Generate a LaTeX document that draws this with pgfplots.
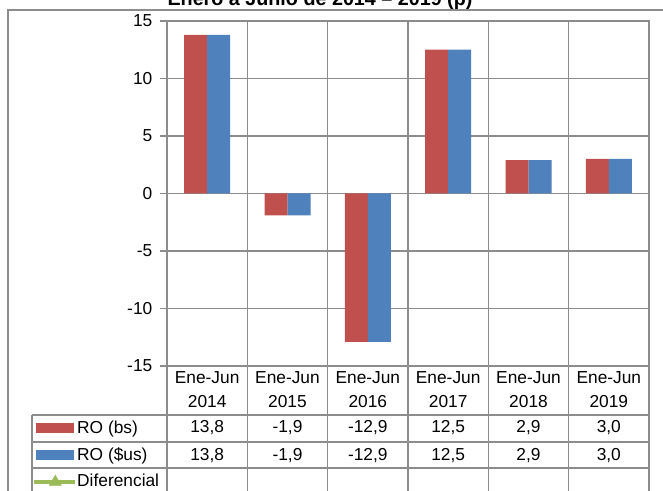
\documentclass[border=0pt]{standalone}
\usepackage{fontspec}
\setmainfont{Liberation Sans}
\usepackage{pgfplots}
\pgfplotsset{compat=1.18}
\definecolor{roa}{HTML}{C0504D}
\definecolor{rob}{HTML}{4F81BD}
\definecolor{dif}{HTML}{9BBB59}
\definecolor{gridc}{RGB}{140,140,140}
\begin{document}
\fontsize{13pt}{15pt}\selectfont
\begin{tikzpicture}
\useasboundingbox (0pt,0pt) rectangle (497.25pt,368.25pt);
\clip (0pt,0pt) rectangle (497.25pt,368.25pt);
\begin{axis}[
  at={(125.25pt,93.75pt)}, anchor=south west,
  scale only axis, width=361.5pt, height=258.75pt,
  xmin=0.5, xmax=6.5, ymin=-15, ymax=15,
  ytick={-15,-10,...,15},
  xtick={1.5,2.5,3.5,4.5,5.5}, xticklabels={},
  xmajorgrids, ymajorgrids,
  grid style={gridc, line width=0.9pt},
  axis line style={gridc, line width=0.9pt},
  tick align=outside, ytick pos=left,
  xtick style={draw=none},
  ytick style={gridc, line width=0.9pt},
  major tick length=5pt,
  ybar=0pt, bar width=17.25pt,
  /pgf/number format/assume math mode=true,
  yticklabel style={font=\fontsize{13pt}{15pt}\selectfont, xshift=-1.5pt},
  legend style={at={(rel axis cs:-0.2759,-0.142)}, anchor=north west,
    draw=none, fill=none, inner sep=0pt, outer sep=0pt,
    row sep=0pt, column sep=2pt,
    nodes={inner sep=0pt, text height=14pt, text depth=6pt, anchor=base west,
      font=\fontsize{13pt}{15pt}\selectfont}},
  legend cell align=left,
]
\addplot[fill=roa, draw=none,
  legend image code/.code={\fill[roa] (0pt,0.5pt) rectangle (28.5pt,8pt);}]
  coordinates {(1,13.8) (2,-1.9) (3,-12.9) (4,12.5) (5,2.9) (6,3.0)};
\addlegendentry{RO (bs)}
\addplot[fill=rob, draw=none,
  legend image code/.code={\fill[rob] (0pt,0.5pt) rectangle (28.5pt,8pt);}]
  coordinates {(1,13.8) (2,-1.9) (3,-12.9) (4,12.5) (5,2.9) (6,3.0)};
\addlegendentry{RO (\$us)}
\addlegendimage{legend image code/.code={
  \fill[dif] (-1.5pt,2.6pt) rectangle (28.5pt,5.4pt);
  \fill[dif] (9.75pt,1.2pt) -- (18.75pt,1.2pt) -- (14.25pt,8.8pt) -- cycle;}}
\addlegendentry{Diferencial}
\end{axis}
\begin{scope}[yshift=368.25pt, x=0.75pt, y=-0.75pt]
\node[anchor=base, inner sep=0pt, font=\fontsize{14.8pt}{16pt}\selectfont\bfseries] at (320,5.5) {Enero a Junio de 2014 -- 2019 (p)};
\draw[gridc, line width=0.9pt] (8,495) -- (8,10) -- (670,10);
% data table grid
\foreach \k in {0,...,6} {
  \draw[gridc, line width=0.9pt] ({167+80.333*\k},366) -- ({167+80.333*\k},495);
}
\foreach \yy in {415,442,468} {
  \draw[gridc, line width=0.9pt] (32,\yy) -- (649,\yy);
}
\draw[gridc, line width=0.9pt] (32,415) -- (32,495);
% table text
\foreach \i/\yr/\va/\vb in {1/2014/{13,8}/{13,8}, 2/2015/{-1,9}/{-1,9}, 3/2016/{-12,9}/{-12,9}, 4/2017/{12,5}/{12,5}, 5/2018/{2,9}/{2,9}, 6/2019/{3,0}/{3,0}} {
  \node[anchor=base, inner sep=0pt] at ({167+80.333*(\i-0.5)},384) {Ene-Jun};
  \node[anchor=base, inner sep=0pt] at ({167+80.333*(\i-0.5)},408) {\yr};
  \node[anchor=base, inner sep=0pt] at ({167+80.333*(\i-0.5)},433) {\va};
  \node[anchor=base, inner sep=0pt] at ({167+80.333*(\i-0.5)},461) {\vb};
}
\end{scope}
\end{tikzpicture}
\end{document}
